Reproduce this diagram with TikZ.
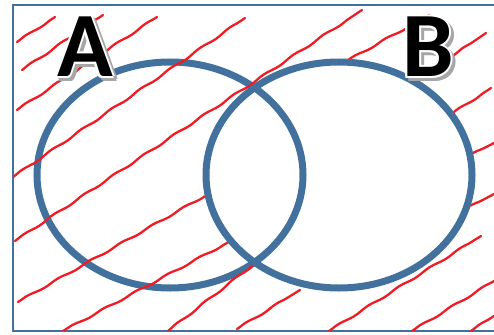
\documentclass[tikz,border=0pt]{standalone}
\usepackage{fontspec}
\newfontfamily\vennfont{Carlito}
\usetikzlibrary{calc,decorations.pathmorphing}
\definecolor{setblue}{HTML}{41719C}
\definecolor{penred}{HTML}{EE1C25}
\definecolor{shadowgray}{HTML}{A6A6A6}

\begin{document}
\begin{tikzpicture}[
  x=1pt, y=-1pt,
  setline/.style={setblue, line width=7pt},
  frameline/.style={setblue, line width=2pt},
  hatch/.style={penred, line width=2.3pt, line cap=round, decorate,
    decoration={snake, amplitude=0.8pt, segment length=36pt}},
  letter/.style={font=\vennfont\bfseries\fontsize{92}{92}\selectfont, inner sep=0pt}
]
\useasboundingbox (0,0) rectangle (494,334);

% ------------------------------------------------------------
% Universe frame and the two sets
% ------------------------------------------------------------
\draw[frameline] (13,5) rectangle (498,331);
\coordinate (cA) at (170,175);
\coordinate (cB) at (339,175);
\draw[setline] (cA) ellipse [x radius=133pt, y radius=113pt];
\draw[setline] (cB) ellipse [x radius=133pt, y radius=113pt];

% ------------------------------------------------------------
% Hand hatching of everything outside B
% ------------------------------------------------------------
\begin{scope}[even odd rule]
  \clip (13,5) rectangle (494,331)
    (cB) ellipse [x radius=136.5pt, y radius=116.5pt];
  \foreach \sx/\sy/\ex/\ey in {17/42/55/17, 22/70/103/15, 17/110/157/17,
      13/177/245/18, 15/241/362/10, 18/302/215/190, 63/331/240/236,
      168/331/258/261, 237/329/300/290, 329/331/481/236, 412/331/494/281,
      471/331/494/316, 462/211/494/194, 465/158/494/143, 450/115/491/88,
      454/55/486/33, 345/62/429/15}
    \draw[hatch] (\sx,\sy) -- (\ex,\ey);
\end{scope}

% ------------------------------------------------------------
% Set labels: gray shadow, white rim, black letter
% ------------------------------------------------------------
\foreach \name/\px/\py in {A/85/47, B/428/47} {
  \foreach \dx/\dy in {-2/0, 2/0, 0/-2, 0/2, -1.4/-1.4, 1.4/-1.4, -1.4/1.4, 1.4/1.4}
    \node[letter, shadowgray] at (\px+3+\dx,\py+3+\dy) {\name};
  \foreach \dx/\dy in {-2/0, 2/0, 0/-2, 0/2, -1.4/-1.4, 1.4/-1.4, -1.4/1.4, 1.4/1.4}
    \node[letter, white] at (\px+\dx,\py+\dy) {\name};
  \node[letter] (lab\name) at (\px,\py) {\name};
}

\end{tikzpicture}
\end{document}
